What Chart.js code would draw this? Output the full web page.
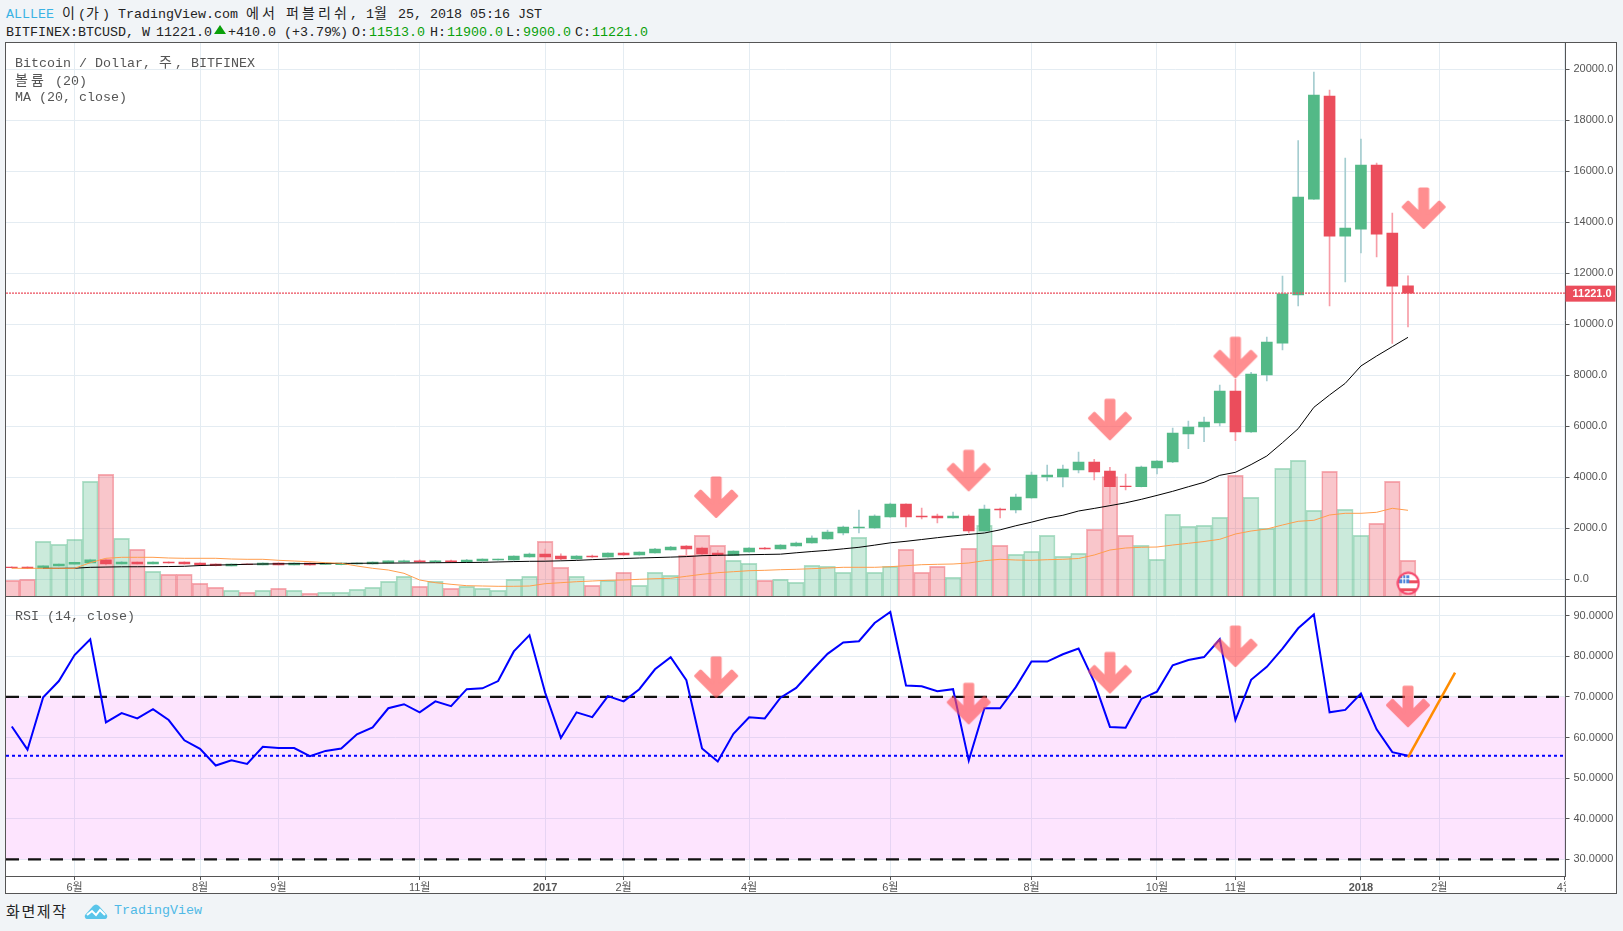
<!DOCTYPE html>
<html lang="ko">
<head>
<meta charset="utf-8">
<title>BITFINEX:BTCUSD</title>
<script src="https://cdn.jsdelivr.net/npm/chart.js@4/dist/chart.umd.js"></script>
<style>
  html, body { margin: 0; padding: 0; background: #f1f4f7; overflow: hidden; }
  body { width: 1623px; height: 931px; position: relative; font: 13.33px "Liberation Mono", "Noto Sans CJK KR", monospace; color: #222; }
  .txt { position: absolute; white-space: pre; line-height: 16px; }
  .ko { font-family: "Noto Sans CJK KR"; font-size: 14px; letter-spacing: 3.12px; }
  .leg { color: #555; }
  .grn { color: #09a009; }
  #box { position: absolute; left: 6px; top: 43px; width: 1610px; height: 850px; background: #fff; outline: 1px solid #555; }
  #sep { position: absolute; left: 6px; top: 596px; width: 1611px; height: 1px; background: #555; }
  canvas { position: absolute; display: block; }
  #tri { position: absolute; left: 214px; top: 25px; width: 0; height: 0; border-left: 6px solid transparent; border-right: 6px solid transparent; border-bottom: 9px solid #09a009; }
</style>
</head>
<body>
<div id="box"></div>
<canvas id="priceChart" width="1610" height="554" style="left:6px;top:43px"></canvas>
<canvas id="rsiChart" width="1610" height="296" style="left:6px;top:597px"></canvas>
<div id="sep"></div>

<div class="txt" style="left:6px;top:4px"><span style="color:#3bb3e4">ALLLEE</span> <span class="ko">이</span>(<span class="ko">가</span>) TradingView.com <span class="ko">에서</span> <span class="ko">퍼블리쉬</span>, 1<span class="ko">월</span> 25, 2018 05:16 JST</div>
<div class="txt" style="left:6px;top:25px">BITFINEX:BTCUSD, W</div>
<div class="txt" style="left:156px;top:25px">11221.0</div>
<div id="tri"></div>
<div class="txt" style="left:228px;top:25px">+410.0 (+3.79%)</div>
<div class="txt" style="left:352px;top:25px">O:</div><div class="txt grn" style="left:369px;top:25px">11513.0</div>
<div class="txt" style="left:430px;top:25px">H:</div><div class="txt grn" style="left:447px;top:25px">11900.0</div>
<div class="txt" style="left:506px;top:25px">L:</div><div class="txt grn" style="left:523px;top:25px">9900.0</div>
<div class="txt" style="left:575px;top:25px">C:</div><div class="txt grn" style="left:592px;top:25px">11221.0</div>

<div class="txt leg" style="left:15px;top:53px">Bitcoin / Dollar, <span class="ko">주</span>, BITFINEX</div>
<div class="txt leg" style="left:15px;top:71px"><span class="ko">볼륨</span> (20)</div>
<div class="txt leg" style="left:15px;top:90px">MA (20, close)</div>
<div class="txt leg" style="left:15px;top:609px">RSI (14, close)</div>

<div class="txt" style="left:6px;top:903px"><span class="ko" style="font-size:15px;letter-spacing:1.6px;color:#222">화면제작</span></div>
<svg style="position:absolute;left:84px;top:904px" width="24" height="16" viewBox="0 0 24 16">
  <path d="M1 11 L9 2 Q12 -1 15 2 L23 11 Q24 15 20 15 L4 15 Q0 15 1 11 Z" fill="#5ac5ea"/>
  <path d="M3 11 L8 7 L12 11 L16 6 L21 11" fill="none" stroke="#fff" stroke-width="2"/>
</svg>
<div class="txt" style="left:114px;top:903px;color:#4fb9e6">TradingView</div>

<script>
// weekly bars, May 2016 - Jan 2018, index 0 = first visible week
const openPrices = [482,482,425,520,590,645,760,600,680,605,680,680,640,600,525,600,565,640,565,640,580,570,600,600,640,680,720,680,720,680,720,760,757,875,992,913,796,913,875,1031,953,1031,1149,1305,1227,1031,940,1070,1227,1188,1306,1423,1580,1815,2011,2011,2442,2953,2482,2482,2404,2482,1893,2756,2717,3188,4011,4011,4286,4600,4247,3658,3633,4364,4600,5697,5972,6128,7383,5776,8011,9264,11148,14910,18949,13459,13733,16243,13577,11513];
const closePrices = [455,425,525,600,670,760,600,680,600,675,640,600,560,530,600,575,640,565,640,560,635,640,640,680,720,720,680,720,680,757,796,790,914,992,875,796,913,875,1031,953,1070,1188,1266,1188,992,953,1110,1227,1188,1345,1423,1620,1854,2051,2051,2482,2953,2442,2442,2404,2482,1893,2756,2717,3227,4090,4090,4326,4600,4208,3633,3633,4404,4639,5737,5972,6168,7383,5776,8051,9305,11199,14992,18988,13459,13773,16243,13537,11499,11221];
const highPrices = [490,490,540,610,680,790,770,700,690,685,685,690,650,610,605,605,645,650,645,645,640,645,645,690,725,750,760,740,755,780,800,795,920,1030,1187,1000,930,950,1040,1060,1080,1210,1290,1320,1260,1140,1120,1240,1250,1360,1460,1700,1930,2090,2716,2530,2990,2960,2796,2560,2639,2530,2913,2796,3345,4207,4483,4483,4992,4704,4391,4129,4443,4660,5933,6207,6364,7619,7840,8117,9502,11894,17200,19894,19188,16522,17267,16322,14365,11900];
const lowPrices = [445,415,420,515,580,640,560,590,590,600,635,595,550,520,520,570,560,560,560,555,575,565,595,595,635,675,675,675,675,675,715,755,750,870,770,770,780,860,870,940,945,1025,1140,953,960,930,930,1060,1180,1180,1300,1415,1570,1740,1815,2000,2430,2051,2364,2207,2395,1815,1880,2404,2600,3180,3855,3620,4169,3894,2979,3502,3620,4129,4574,5123,5397,6011,5436,5760,7776,9000,10717,14900,10717,11659,12796,12639,9254,9900];
// volume is in relative units, read as bar height
const volumes = [16.7,17.7,55.7,52.7,57.7,115.7,122.7,58.7,47.7,25.7,22.7,22.7,13.7,9.7,6.7,4.7,6.7,8.7,6.7,3.7,4.7,4.7,7.7,9.7,15.7,20.7,10.7,15.7,8.7,10.7,8.7,6.7,17.7,20.7,55.7,29.7,20.7,11.7,16.7,24.7,11.7,24.7,21.7,41.7,61.7,51.7,36.7,33.7,16.7,17.7,14.7,31.7,30.7,24.7,59.7,24.7,30.7,47.7,24.7,30.7,19.7,48.7,71.7,51.7,42.7,45.7,61.7,40.7,43.7,67.7,120.3,61.7,51.7,37.7,82.7,70.7,71.7,79.7,121.7,99.7,68.7,128.7,136.7,86.7,125.7,87.7,61.7,73.7,115.7,36.7];
const volumeMa = [28.7,28.7,28.7,28.7,28.7,34.3,38.7,39.7,39.7,39.7,39,38.7,38.7,38.7,38,37.7,37.7,36.7,36,35.3,34.3,33.7,31,28.7,27,23.7,17,14.3,12.7,11.3,11,10.7,10.7,11,13.3,14.3,15.3,16,16.7,17,17.7,18.3,18.7,20.7,22.7,24.3,25.3,26.3,26.7,27.3,27.7,28.3,29,29.7,29.7,29.7,30.3,31.3,32.3,32.7,33,34,36.3,37.7,37,36.7,37.3,37.7,38.5,42,47,49,49.7,50,52,53.7,55.5,57.7,63,66,68,72,75.7,76.7,82,83.7,83.7,84.7,88.7,86.7];
const priceMa = [null,null,430,430,435,470,480,490,492,495,500,510,540,560,570,590,600,605,610,612,618,622,628,632,636,640,645,650,655,660,665,680,695,705,710,725,742,770,796,815,835,852,870,890,926,940,953,965,975,985,1040,1090,1135,1195,1255,1340,1430,1490,1560,1632,1700,1760,1815,1940,2100,2240,2400,2510,2678,2780,2888,3000,3136,3290,3450,3630,3803,4077,4195,4500,4835,5357,5907,6744,7228,7685,8365,8756,9122,9488];
const rsiValues = [62.7,57,69.9,73.9,80.3,84.2,63.7,66,64.7,67,64.3,59.3,57.2,53.1,54.4,53.5,57.7,57.4,57.4,55.4,56.7,57.3,60.8,62.5,67.2,68.2,66.2,68.9,67.7,71.9,72.1,73.9,81.2,85.2,71,59.9,66.2,65,70.2,68.9,71.9,76.8,79.8,74.1,57.3,54.1,60.9,65,64.7,69.8,72.2,76.5,80.6,83.4,83.7,88.2,90.9,72.8,72.6,71.4,71.9,54.3,67.2,67.2,72.4,78.7,78.7,80.5,81.9,73.7,62.6,62.4,69.5,71.3,77.8,79.1,79.8,84.2,64.3,74.2,77.4,81.9,86.9,90.3,66.2,66.8,70.8,62,56.4,55.5];

const priceTicks = [0,2000,4000,6000,8000,10000,12000,14000,16000,18000,20000];
const rsiTicks = [30,40,50,60,70,80,90];
const timeTicks = [4,12,17,26,34,39,47,56,65,73,78,86,91,99];
const timeLabels = ['6월','8월','9월','11월','2017','2월','4월','6월','8월','10월','11월','2018','2월','4월'];
const yearTicks = [34,86];

const lastClose = 11221;
const rsiLevelHigh = 70;
const rsiLevelLow = 30;
const rsiMidLevel = 55.5;
const priceArrows = [[44.9,3208],[61,4255],[70,6259],[78,8690],[90,14541]];
const rsiArrows = [[44.9,74.8],[61,68.3],[70,75.9],[78,82.4],[89,67.6]];
const rsiTrend = [[89,55.1],[92,76]];
const eventMarks = [[89.02,-157]];

const GREEN = '#53b987', RED = '#eb4d5c';
const GRID = '#e4ecf2', AXIS = '#555';
const AXIS_FONT = { family: '"Liberation Sans", "Noto Sans CJK KR", sans-serif', size: 11 };
const X_MIN = -0.37, X_MAX = 99.04;

const weeks = closePrices.map((c, i) => i);
const isUp = weeks.map(i => closePrices[i] >= openPrices[i]);
const wickColors = isUp.map(u => u ? '#a5cdd0' : '#f79da7');
const bodyColors = isUp.map(u => u ? GREEN : RED);
const volFill = isUp.map(u => u ? 'rgba(83,185,135,0.3)' : 'rgba(235,77,92,0.32)');
const volEdge = isUp.map(u => u ? 'rgba(83,185,135,0.45)' : 'rgba(235,77,92,0.45)');

function xy(values) { return weeks.map(i => ({ x: i, y: values[i] })); }
function pairs(list) { return list.map(p => ({ x: p[0], y: p[1] })); }
function span(v) { return [{ x: X_MIN, y: v }, { x: X_MAX, y: v }]; }

// pink arrow sprite, solid first and then copied with alpha so fill and edge don't double up
function makeArrow() {
  const shape = document.createElement('canvas');
  shape.width = 46; shape.height = 45;
  const g = shape.getContext('2d');
  const outline = [[19,3],[27,3],[27,27.6],[38.55,16.05],[43.5,21],[23,41.5],[2.5,21],[7.45,16.05],[19,27.6]];
  g.fillStyle = g.strokeStyle = 'rgb(255,82,85)';
  g.lineWidth = 3;
  g.lineJoin = 'round';
  g.beginPath();
  outline.forEach((p, i) => i ? g.lineTo(p[0], p[1]) : g.moveTo(p[0], p[1]));
  g.closePath();
  g.fill();
  g.stroke();
  const c = document.createElement('canvas');
  c.width = 46; c.height = 45;
  const o = c.getContext('2d');
  o.globalAlpha = 0.65;
  o.drawImage(shape, 0, 0);
  return c;
}

// economic event badge (US flag)
function makeFlag() {
  const c = document.createElement('canvas');
  c.width = 24; c.height = 24;
  const g = c.getContext('2d');
  g.beginPath(); g.arc(12, 12, 10, 0, Math.PI * 2);
  g.fillStyle = '#fff'; g.fill();
  g.save(); g.clip();
  g.fillStyle = '#eb4d5c';
  g.fillRect(2, 9, 20, 3); g.fillRect(2, 17, 20, 3);
  g.fillStyle = '#4f86d9';
  g.fillRect(3, 4, 10, 8);
  g.fillStyle = '#fff';
  g.fillRect(6, 4, 1, 8); g.fillRect(9, 4, 1, 8); g.fillRect(3, 7, 10, 1);
  g.restore();
  g.beginPath(); g.arc(12, 12, 10.5, 0, Math.PI * 2);
  g.strokeStyle = '#f5456a'; g.lineWidth = 2; g.stroke();
  return c;
}

const arrowSprite = makeArrow();

function xScale(showLabels) {
  return {
    type: 'linear', min: X_MIN, max: X_MAX, offset: false,
    grid: { color: GRID, drawTicks: showLabels, tickLength: 4, tickColor: AXIS, offset: false },
    border: { display: showLabels, color: AXIS },
    ticks: {
      display: showLabels, autoSkip: false, maxRotation: 0, padding: 1, color: '#555',
      font: ctx => ({ ...AXIS_FONT, weight: yearTicks.includes(ctx.tick && ctx.tick.value) ? 'bold' : 'normal' }),
      callback: v => timeLabels[timeTicks.indexOf(v)]
    },
    afterBuildTicks: s => { s.ticks = timeTicks.map(v => ({ value: v })); },
    afterFit: s => { s.height = showLabels ? 17 : 0; s.paddingLeft = 0; s.paddingRight = 0; }
  };
}

function yScale(tickValues, digits, min, max) {
  return {
    position: 'right', min, max,
    grid: { color: GRID, tickLength: 4, tickColor: AXIS },
    border: { color: AXIS },
    ticks: { padding: 4, color: '#555', font: AXIS_FONT, callback: v => v.toFixed(digits) },
    afterBuildTicks: s => { s.ticks = tickValues.map(v => ({ value: v })); },
    afterFit: s => { s.width = 50.5; s.paddingTop = 0; s.paddingBottom = 0; }
  };
}

// current price tag on the right axis
const priceTag = {
  id: 'priceTag',
  afterDraw(chart) {
    const y = chart.scales.y.getPixelForValue(lastClose);
    const x = chart.chartArea.right;
    const g = chart.ctx;
    g.save();
    g.fillStyle = RED;
    g.fillRect(x, y - 7.5, 50, 16);
    g.fillStyle = '#fff';
    g.font = 'bold 11px "Liberation Sans"';
    g.textBaseline = 'middle';
    g.fillText(lastClose.toFixed(1), x + 7, y + 1);
    g.restore();
  }
};

// the last axis label is cut at the pane edge
const cutLabel = {
  id: 'cutLabel',
  afterDraw(chart) {
    const a = chart.chartArea;
    chart.ctx.save();
    chart.ctx.fillStyle = '#fff';
    chart.ctx.fillRect(a.right + 0.5, a.bottom + 1, chart.width - a.right, chart.height - a.bottom);
    chart.ctx.restore();
  }
};

new Chart(document.getElementById('priceChart'), {
  data: {
    datasets: [
      { type: 'scatter', data: pairs(priceArrows), pointStyle: arrowSprite, pointRadius: 20, order: 0 },
      { type: 'scatter', data: pairs(eventMarks), pointStyle: makeFlag(), pointRadius: 12, order: 1 },
      { type: 'line', data: span(lastClose), borderColor: RED, borderWidth: 1.2, borderDash: [2, 1], pointRadius: 0, order: 2 },
      { type: 'line', data: xy(volumeMa), yAxisID: 'yVol', borderColor: '#ff9d4d', borderWidth: 1, pointRadius: 0, order: 3 },
      { type: 'line', data: xy(priceMa), borderColor: '#000', borderWidth: 1, pointRadius: 0, order: 4 },
      { type: 'bar', data: weeks.map(i => ({ x: i, y: [openPrices[i], closePrices[i]] })), backgroundColor: bodyColors, barThickness: 11, grouped: false, order: 5 },
      { type: 'bar', data: weeks.map(i => ({ x: i, y: [lowPrices[i], highPrices[i]] })), backgroundColor: wickColors, barThickness: 1, grouped: false, order: 6 },
      { type: 'bar', data: xy(volumes), yAxisID: 'yVol', backgroundColor: volFill, borderColor: volEdge, borderWidth: 1, barThickness: 15.7, grouped: false, order: 7 }
    ]
  },
  options: {
    responsive: false, animation: false, devicePixelRatio: 1,
    layout: { padding: 0, autoPadding: false },
    plugins: { legend: { display: false }, tooltip: { enabled: false } },
    scales: {
      x: xScale(false),
      y: yScale(priceTicks, 1, -694, 21031),
      yVol: { display: false, min: 0, max: 554 }
    }
  },
  plugins: [priceTag]
});

new Chart(document.getElementById('rsiChart'), {
  data: {
    datasets: [
      { type: 'scatter', data: pairs(rsiArrows), pointStyle: arrowSprite, pointRadius: 20, order: 0 },
      { type: 'line', data: pairs(rsiTrend), borderColor: '#ff8c00', borderWidth: 2.5, pointRadius: 0, order: 1 },
      { type: 'line', data: xy(rsiValues), borderColor: '#0000ff', borderWidth: 2, pointRadius: 0, order: 2 },
      { type: 'line', data: span(rsiMidLevel), borderColor: '#0000ff', borderWidth: 2, borderDash: [3, 3], pointRadius: 0, order: 3 },
      { type: 'line', data: span(rsiLevelLow), borderColor: '#111', borderWidth: 2.3, borderDash: [13, 9], pointRadius: 0, order: 4 },
      { type: 'line', data: span(rsiLevelHigh), borderColor: '#111', borderWidth: 2.3, borderDash: [13, 9], pointRadius: 0, order: 5,
        fill: { target: { value: rsiLevelLow } }, backgroundColor: 'rgba(243,100,249,0.174)' }
    ]
  },
  options: {
    responsive: false, animation: false, devicePixelRatio: 1,
    layout: { padding: 0, autoPadding: false },
    plugins: { legend: { display: false }, tooltip: { enabled: false } },
    scales: {
      x: xScale(true),
      y: yScale(rsiTicks, 4, 25.89, 94.6)
    }
  },
  plugins: [cutLabel]
});
</script>
</body>
</html>
